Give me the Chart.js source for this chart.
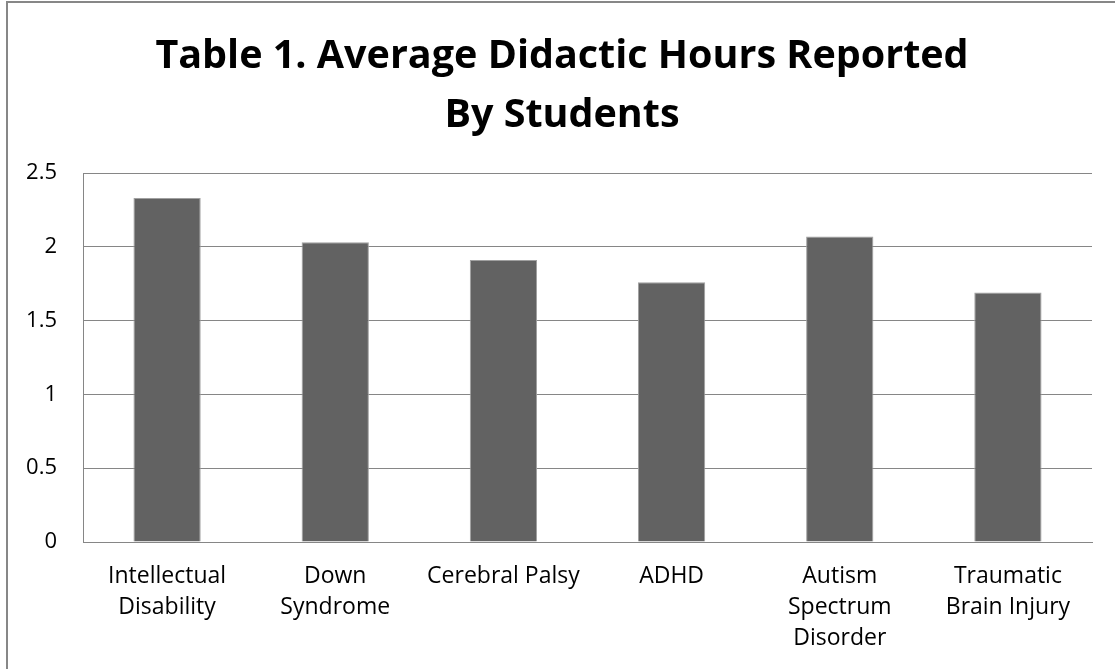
<!DOCTYPE html>
<html>
<head>
<meta charset="utf-8">
<script src="https://cdn.jsdelivr.net/npm/chart.js@4"></script>
<style>
  html, body { margin: 0; padding: 0; background: #ffffff; overflow: hidden; }
  #wrap { position: relative; width: 1115px; height: 669px; }
  #frame { position: absolute; left: 6px; top: 1px; width: 1200px; height: 800px;
           border-left: 2px solid #878787; border-top: 2px solid #878787; box-sizing: border-box; }
  canvas { position: absolute; left: 0; top: 0; }
</style>
</head>
<body>
<div id="wrap">
  <div id="frame"></div>
  <canvas id="c" width="1115" height="669"></canvas>
</div>
<script>
const titleLines = ["Table 1. Average Didactic Hours Reported", "By Students"];
const categories = [
  ["Intellectual", "Disability"],
  ["Down", "Syndrome"],
  ["Cerebral Palsy"],
  ["ADHD"],
  ["Autism", "Spectrum", "Disorder"],
  ["Traumatic", "Brain Injury"]
];
const hours = [2.33, 2.03, 1.91, 1.76, 2.07, 1.69];
const yTickValues = [0, 0.5, 1, 1.5, 2, 2.5];
const yTickLabels = ["0", "0.5", "1", "1.5", "2", "2.5"];

const FONT = "'Open Sans', 'Liberation Sans', sans-serif";

// Centre the title over the whole (cropped) chart frame rather than the padded box
const titleCentering = {
  id: 'titleCentering',
  afterLayout(chart) {
    if (chart.titleBlock) { chart.titleBlock.left = 32; }
  }
};

new Chart(document.getElementById('c'), {
  type: 'bar',
  data: {
    labels: categories,
    datasets: [{
      data: hours,
      backgroundColor: '#626262',
      borderColor: '#a0a0a0',
      borderWidth: 1,
      categoryPercentage: 1.0,
      barPercentage: 0.4
    }]
  },
  options: {
    responsive: false,
    animation: false,
    devicePixelRatio: 1,
    layout: { padding: { left: 0, right: 23, top: 0, bottom: 0 } },
    plugins: {
      legend: { display: false },
      tooltip: { enabled: false },
      title: {
        display: true,
        text: titleLines,
        color: '#000000',
        font: { family: FONT, size: 39.5, weight: 'bold', lineHeight: '59px' },
        padding: { top: 27, bottom: 28 }
      }
    },
    scales: {
      x: {
        grid: { display: false, drawTicks: false },
        border: { display: true, color: '#868686', width: 1 },
        ticks: {
          color: '#000000',
          font: { family: FONT, size: 23, lineHeight: '31px' },
          padding: 19,
          maxRotation: 0,
          autoSkip: false
        },
        afterFit: (s) => { s.height = 127; }
      },
      y: {
        min: 0,
        max: 2.5,
        afterBuildTicks: (s) => { s.ticks = yTickValues.map(v => ({ value: v })); },
        grid: { color: '#868686', lineWidth: 1, drawTicks: false },
        border: { display: true, color: '#868686', width: 1 },
        ticks: {
          color: '#000000',
          font: { family: FONT, size: 22 },
          padding: 26,
          callback: (v, i) => yTickLabels[i]
        },
        afterFit: (s) => { s.width = 83; }
      }
    }
  },
  plugins: [titleCentering]
});
</script>
</body>
</html>
